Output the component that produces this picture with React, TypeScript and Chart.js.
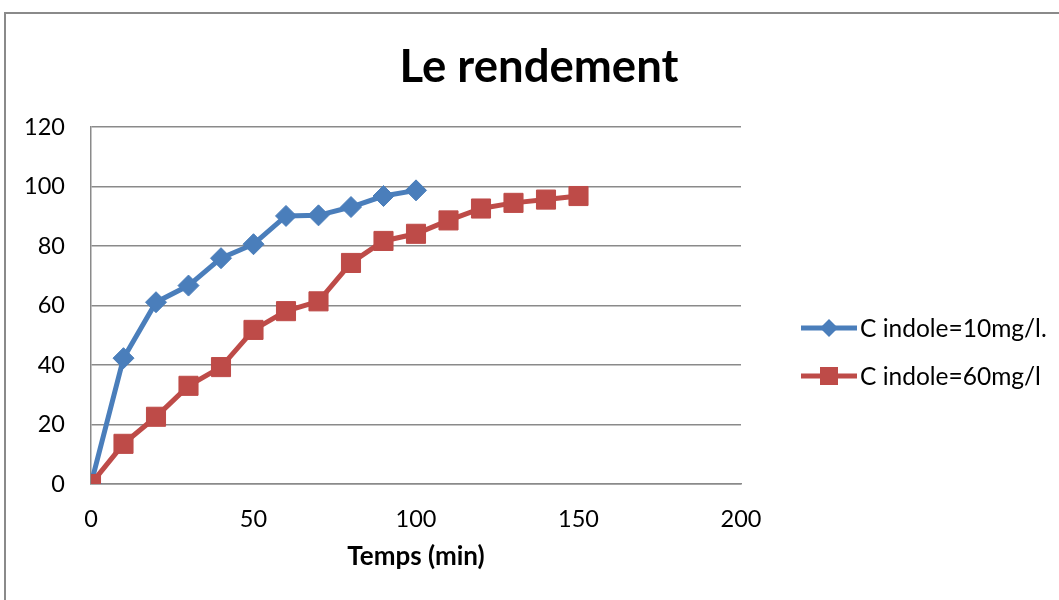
import { useEffect, useRef } from "react";
import { Chart, registerables } from "chart.js";

Chart.register(...registerables);

// Chart text
const chartTitle = "Le rendement";
const xAxisTitle = "Temps (min)";
const seriesNames = ["C indole=10mg/l.", "C indole=60mg/l"];

// Series 1: indole 10 mg/l
const time10 = [0, 10, 20, 30, 40, 50, 60, 70, 80, 90, 100];
const yield10 = [0, 42.3, 61.1, 66.7, 75.9, 80.6, 90.1, 90.3, 93.1, 96.8, 98.7];

// Series 2: indole 60 mg/l
const time60 = [0, 10, 20, 30, 40, 50, 60, 70, 80, 90, 100, 110, 120, 130, 140, 150];
const yield60 = [0, 13.5, 22.6, 33.0, 39.3, 51.8, 58.1, 61.4, 74.3, 81.7, 84.1, 88.6, 92.6, 94.5, 95.6, 96.8];

// Axis ticks
const xTicks = [0, 50, 100, 150, 200];
const yTicks = [0, 20, 40, 60, 80, 100, 120];

const seriesColors = ["#4A7EBB", "#BE4B48"];
const seriesMarkers = ["rectRot", "rect"];
const FONT = "Lato, 'Open Sans', sans-serif";
const GRID = "#8a8a8a";

function drawMarker(ctx: CanvasRenderingContext2D, kind: string, x: number, y: number, r: number) {
  ctx.beginPath();
  if (kind === "rectRot") {
    ctx.moveTo(x, y - r);
    ctx.lineTo(x + r, y);
    ctx.lineTo(x, y + r);
    ctx.lineTo(x - r, y);
    ctx.closePath();
  } else {
    ctx.rect(x - r, y - r, 2 * r, 2 * r);
  }
  ctx.fill();
}

const decorPlugin = {
  id: "decor",
  beforeDraw(chart: any) {
    const ctx = chart.ctx as CanvasRenderingContext2D;
    ctx.save();
    ctx.fillStyle = "#ffffff";
    ctx.fillRect(0, 0, chart.width, chart.height);
    // outer chart frame
    ctx.strokeStyle = GRID;
    ctx.lineWidth = 2;
    ctx.strokeRect(5, 13, chart.width + 20, chart.height + 20);
    ctx.restore();
  },
  afterDraw(chart: any) {
    const ctx = chart.ctx as CanvasRenderingContext2D;
    ctx.save();
    // title
    ctx.fillStyle = "#000000";
    ctx.font = `bold 45.5px ${FONT}`;
    ctx.textAlign = "center";
    ctx.textBaseline = "alphabetic";
    ctx.fillText(chartTitle, 539, 82);

    // legend: line with marker, then label
    ctx.textAlign = "left";
    ctx.font = `24.5px ${FONT}`;
    seriesNames.forEach((name, i) => {
      const y = 328 + i * 48;
      ctx.strokeStyle = seriesColors[i];
      ctx.lineWidth = 5;
      ctx.beginPath();
      ctx.moveTo(801, y);
      ctx.lineTo(857, y);
      ctx.stroke();
      ctx.fillStyle = seriesColors[i];
      drawMarker(ctx, seriesMarkers[i], 829, y, 9);
      ctx.fillStyle = "#000000";
      ctx.fillText(name, 860, y + 8.5);
    });
    ctx.restore();
  },
};

export default function App() {
  const canvasRef = useRef<HTMLCanvasElement | null>(null);

  useEffect(() => {
    document.body.style.margin = "0";
    const canvas = canvasRef.current;
    if (!canvas) return;

    const toPoints = (xs: number[], ys: number[]) => xs.map((x, i) => ({ x, y: ys[i] }));

    const chart = new Chart(canvas, {
      type: "line",
      data: {
        datasets: [
          {
            label: seriesNames[0],
            data: toPoints(time10, yield10),
            order: 1,
            borderColor: seriesColors[0],
            backgroundColor: seriesColors[0],
            borderWidth: 5,
            pointStyle: "rectRot",
            pointRadius: 10.5,
            pointBorderWidth: 1,
            pointBackgroundColor: seriesColors[0],
            pointBorderColor: seriesColors[0],
            tension: 0,
          },
          {
            label: seriesNames[1],
            data: toPoints(time60, yield60),
            order: 0,
            borderColor: seriesColors[1],
            backgroundColor: seriesColors[1],
            borderWidth: 5,
            pointStyle: "rect",
            pointRadius: 13.5,
            pointBorderWidth: 1,
            pointBackgroundColor: seriesColors[1],
            pointBorderColor: seriesColors[1],
            tension: 0,
          },
        ],
      },
      options: {
        responsive: false,
        animation: false,
        events: [],
        layout: { padding: { top: 127, right: 318, left: 0, bottom: 0 } },
        plugins: {
          legend: { display: false },
          title: { display: false },
          tooltip: { enabled: false },
        },
        scales: {
          x: {
            type: "linear",
            min: 0,
            max: 200,
            afterFit: (scale: any) => {
              scale.height = 116;
            },
            afterBuildTicks: (scale: any) => {
              scale.ticks = xTicks.map((v) => ({ value: v }));
            },
            grid: { display: false, drawTicks: false },
            border: { display: true, color: GRID, width: 1.5 },
            ticks: {
              padding: 21,
              color: "#000000",
              font: { family: FONT, size: 23.5 },
              maxRotation: 0,
            },
            title: {
              display: true,
              text: xAxisTitle,
              color: "#000000",
              font: { family: FONT, size: 26, weight: "bold" },
              padding: { top: 0, bottom: 28 },
            },
          },
          y: {
            min: 0,
            max: 120,
            afterFit: (scale: any) => {
              scale.width = 91;
            },
            afterBuildTicks: (scale: any) => {
              scale.ticks = yTicks.map((v) => ({ value: v }));
            },
            grid: { color: GRID, lineWidth: 1.5, drawTicks: false },
            border: { display: true, color: GRID, width: 1.5 },
            ticks: {
              padding: 26,
              color: "#000000",
              font: { family: FONT, size: 23.5 },
            },
          },
        },
      },
      plugins: [decorPlugin],
    });

    return () => chart.destroy();
  }, []);

  return (
    <div style={{ width: 1059, height: 600 }}>
      <canvas ref={canvasRef} width={1059} height={600} style={{ display: "block" }} />
    </div>
  );
}
